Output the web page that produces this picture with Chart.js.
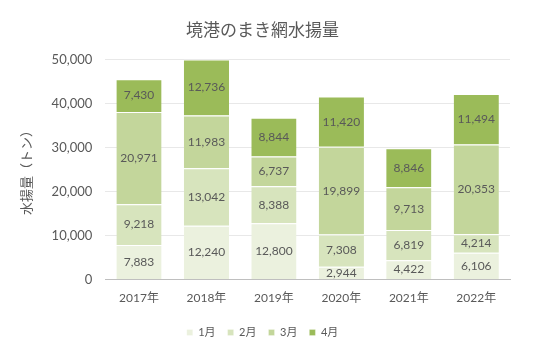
<!DOCTYPE html>
<html>
<head>
<meta charset="utf-8">
<script src="https://cdn.jsdelivr.net/npm/chart.js@4"></script>
<style>
  html, body { margin: 0; padding: 0; background: #fff; }
  #wrap { width: 550px; height: 349px; position: relative; }
</style>
</head>
<body>
<div id="wrap"><canvas id="c"></canvas></div>
<script>
  var years = ["2017年", "2018年", "2019年", "2020年", "2021年", "2022年"];
  var jan = [7883, 12240, 12800, 2944, 4422, 6106];
  var feb = [9218, 13042, 8388, 7308, 6819, 4214];
  var mar = [20971, 11983, 6737, 19899, 9713, 20353];
  var apr = [7430, 12736, 8844, 11420, 8846, 11494];
  var monthNames = ["1月", "2月", "3月", "4月"];
  var colors = ["#ebf1de", "#d7e4bd", "#c3d69b", "#9bbb59"];

  var FONT = "Lato, 'Noto Sans CJK JP', sans-serif";
  var GREY = "#595959";

  // 各セグメント中央に数値を描く
  var labelPlugin = {
    id: "segLabels",
    afterDatasetsDraw: function (chart) {
      var ctx = chart.ctx;
      ctx.save();
      ctx.font = "12px " + FONT;
      ctx.fillStyle = GREY;
      ctx.textAlign = "center";
      ctx.textBaseline = "middle";
      chart.data.datasets.forEach(function (ds, i) {
        chart.getDatasetMeta(i).data.forEach(function (bar, j) {
          var p = bar.getProps(["x", "y", "base"], true);
          ctx.fillText(ds.data[j].toLocaleString("en-US"), p.x, (p.y + p.base) / 2);
        });
      });
      ctx.restore();
    }
  };

  new Chart(document.getElementById("c"), {
    type: "bar",
    data: {
      labels: years,
      datasets: [jan, feb, mar, apr].map(function (d, i) {
        return { label: monthNames[i], data: d, backgroundColor: colors[i],
          borderColor: "#ffffff", borderWidth: { top: 1 }, borderSkipped: false,
          barPercentage: 0.67, categoryPercentage: 1 };
      })
    },
    options: {
      responsive: true, maintainAspectRatio: false, animation: false,
      layout: { padding: { left: 15, right: 40, top: 8, bottom: 1 } },
      plugins: {
        title: { display: true, text: "境港のまき網水揚量", color: GREY,
          font: { family: FONT, size: 17, weight: "normal" }, padding: { top: 12, bottom: 19 } },
        legend: { position: "bottom", labels: { boxWidth: 6, boxHeight: 6, color: GREY,
          font: { family: FONT, size: 11 }, padding: 12 } },
        tooltip: { enabled: false }
      },
      scales: {
        x: { stacked: true, grid: { display: false }, border: { color: "#bfbfbf" },
          ticks: { color: GREY, font: { family: FONT, size: 12 }, padding: 3 },
          afterFit: function (s) { s.height += 7; } },
        y: { stacked: true, min: 0, max: 50000,
          grid: { color: "#e8e8e8", drawTicks: false }, border: { display: false },
          ticks: { stepSize: 10000, color: GREY, font: { family: FONT, size: 13 }, padding: 13,
            callback: function (v) { return v.toLocaleString("en-US"); } },
          title: { display: true, text: "水揚量（トン）", color: GREY,
            font: { family: FONT, size: 13 }, padding: { bottom: 4 } } }
      }
    },
    plugins: [labelPlugin]
  });
</script>
</body>
</html>
